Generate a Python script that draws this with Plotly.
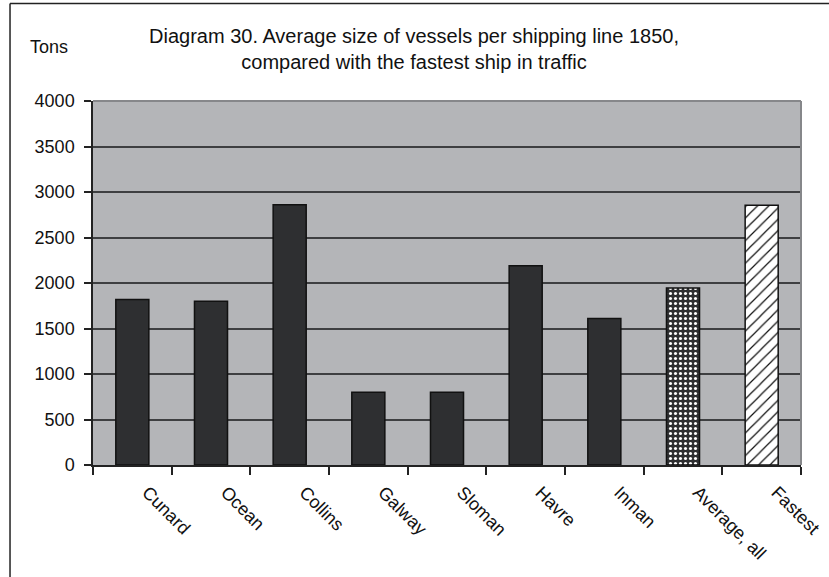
import plotly.graph_objects as go

categories = ["Cunard", "Ocean", "Collins", "Galway", "Sloman", "Havre", "Inman", "Average, all", "Fastest"]
tons = [1820, 1800, 2860, 800, 800, 2190, 1610, 1945, 2855]
y_ticks = [0, 500, 1000, 1500, 2000, 2500, 3000, 3500, 4000]

dark = "#2e2f31"
n_lines = 7

fig = go.Figure()
fig.add_trace(go.Bar(
    x=categories[:n_lines], y=tons[:n_lines], width=0.42,
    marker=dict(color=dark, line=dict(color="#111111", width=1.5)),
    showlegend=False,
))
fig.add_trace(go.Bar(
    x=[categories[7]], y=[tons[7]], width=0.42,
    marker=dict(color=dark, line=dict(color="#111111", width=1.5),
                pattern=dict(shape=".", bgcolor=dark, fgcolor="#ffffff", size=5, solidity=0.3, fillmode="replace")),
    showlegend=False,
))
fig.add_trace(go.Bar(
    x=[categories[8]], y=[tons[8]], width=0.42,
    marker=dict(color="white", line=dict(color="#111111", width=1.5),
                pattern=dict(shape="/", bgcolor="white", fgcolor="#111111", size=8, solidity=0.15, fillmode="replace")),
    showlegend=False,
))

font = "Liberation Sans, Arial, sans-serif"
fig.update_layout(
    width=829, height=577,
    margin=dict(l=93, r=28, t=101, b=112, autoexpand=False),
    paper_bgcolor="white",
    plot_bgcolor="#b4b5b8",
    font=dict(family=font, size=18, color="#111111"),
    annotations=[
        dict(text="Diagram 30. Average size of vessels per shipping line 1850,<br>compared with the fastest ship in traffic",
             xref="paper", yref="paper", x=0.453, y=1.143, xanchor="center", yanchor="middle",
             showarrow=False, font=dict(size=20, family=font, color="#111111")),
        dict(text="Tons", xref="paper", yref="paper", x=-0.0918, y=1.148, xanchor="left",
             yanchor="middle", showarrow=False, font=dict(size=18, family=font, color="#111111")),
    ],
    shapes=[
        dict(type="line", xref="paper", yref="paper", x0=-0.1172, x1=-0.1172, y0=1.268, y1=-0.33,
             line=dict(color="#222222", width=1.5)),
        dict(type="line", xref="paper", yref="paper", x0=-0.1172, x1=1.045, y0=1.268, y1=1.268,
             line=dict(color="#222222", width=1.5)),
        dict(type="line", xref="paper", yref="paper", x0=1.0, x1=1.0, y0=0, y1=1,
             line=dict(color="#86878a", width=2), layer="above"),
        dict(type="line", xref="paper", yref="paper", x0=0, x1=1.0, y0=1, y1=1,
             line=dict(color="#86878a", width=2), layer="above"),
    ],
)
fig.update_yaxes(
    range=[0, 4000], tickvals=y_ticks, ticktext=[str(v) for v in y_ticks],
    showgrid=True, gridcolor="#3e3f41", gridwidth=1.5,
    showline=True, linecolor="#222222", linewidth=1.5,
    ticks="outside", ticklen=7, tickcolor="#222222", tickwidth=1.5,
    ticklabelstandoff=6, automargin=False,
    zeroline=False, tickfont=dict(size=18),
)
fig.update_xaxes(
    showline=True, linecolor="#222222", linewidth=1.5,
    ticks="outside", ticklen=8, tickcolor="#222222", tickwidth=1.5, tickson="boundaries",
    tickangle=45, tickfont=dict(size=18), showgrid=False, automargin=False,
    ticklabelstandoff=8, ticklabelshift=15,
)

fig.write_html("out.html", config={"displayModeBar": False},
               post_script="document.body.style.margin='0';")
